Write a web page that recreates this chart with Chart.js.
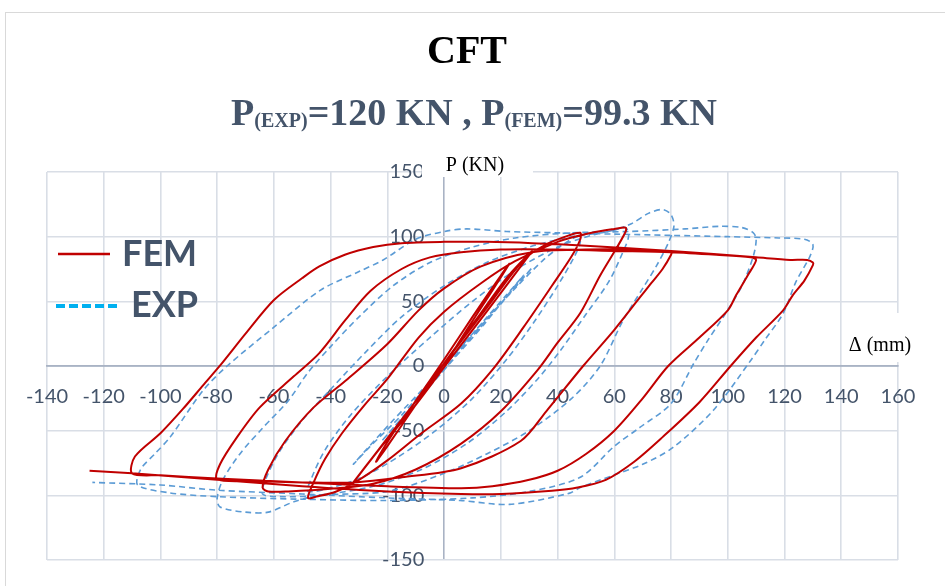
<!DOCTYPE html>
<html>
<head>
<meta charset="utf-8">
<script src="https://cdn.jsdelivr.net/npm/chart.js@4"></script>
<style>
  body { margin: 0; background: #fff; }
</style>
</head>
<body>
<canvas id="cftChart" width="945" height="586"></canvas>
<script>
'use strict';

// axis ticks
const xTicks = [-140, -120, -100, -80, -60, -40, -20, 0, 20, 40, 60, 80, 100, 120, 140, 160];
const yTicks = [-150, -100, -50, 0, 50, 100, 150];

// FEM hysteresis path, [delta (mm), P (kN)] in loading order
const femPoints = [
  [0, 0], [8, 28], [16, 55], [23, 79],
  [20, 70], [10, 38], [0, 5], [-10, -27], [-18, -52], [-24, -74],
  [-20, -62], [-10, -30], [0, 2], [12, 38], [22, 68], [31, 89],
  [28, 80], [15, 42], [2, 5], [-10, -30], [-22, -62], [-32, -90],
  [-25, -70], [-12, -33], [0, 2], [15, 45], [28, 82], [36, 94], [44, 101], [48, 103],
  [48, 98], [45, 85], [38, 62], [28, 30], [17, -3], [6, -29], [-8, -52], [-20, -73], [-30, -88], [-38, -97], [-45, -101], [-48, -102],
  [-46, -90], [-42, -72], [-36, -52], [-28, -30], [-20, -10], [-9, 22], [0, 42], [13, 64], [25, 81], [40, 96], [52, 103], [60, 106], [64, 107],
  [64, 104], [61, 92], [55, 70], [48, 41], [40, 18], [33, -3], [20, -35], [6, -60], [-10, -80], [-25, -91], [-40, -95], [-55, -97], [-62, -97], [-64, -94],
  [-62, -80], [-56, -58], [-46, -32], [-34, -10], [-20, 17], [-9, 43], [0, 60], [13, 77], [31, 88], [50, 90], [66, 90], [78, 89], [80, 88],
  [80, 86], [77, 75], [73, 64], [69, 53], [60, 28], [49, 0], [36, -35], [27, -58], [6, -79], [-15, -86], [-32, -90], [-50, -90], [-68, -89], [-80, -87.5],
  [-79, -76], [-73, -55], [-65, -32], [-53, -8], [-44, 10], [-35, 35], [-26, 58], [-15, 75], [-5, 84], [6, 88], [20, 90], [40, 90], [60, 89], [80, 88], [96, 86], [108, 84], [110, 82],
  [107, 70], [103, 55], [100, 43], [90, 22], [79, 0], [70, -25], [60, -50], [50, -68], [40, -81], [30, -88], [17, -93], [6, -94.5], [-20, -93], [-50, -90], [-80, -87], [-100, -84.5], [-110, -83],
  [-109, -70], [-100, -52], [-92, -33], [-85, -15], [-78, 3], [-70, 25], [-60, 51], [-50, 68], [-44, 77], [-35, 86], [-25, 92], [-15, 95], [0, 96], [15, 96], [31, 95], [50, 93], [80, 89], [110, 84], [122, 82], [128, 82], [130, 80],
  [130, 78], [127, 66], [123, 55], [119.5, 43], [110, 22], [101, 0], [90, -28], [77, -55], [67, -74], [57, -88], [47, -94], [38, -96.5], [20, -99], [6, -99], [-20, -97], [-50, -93], [-80, -88], [-110, -83], [-125, -81]
];

// EXP hysteresis path
const expPoints = [
  [0, 0], [6, 15], [14, 35], [22, 55], [28, 70],
  [25, 62], [14, 32], [2, 2], [-10, -28], [-22, -58],
  [-18, -48], [-6, -18], [8, 18], [20, 48], [31, 76],
  [27, 66], [15, 36], [0, 0], [-15, -38], [-26, -62], [-32, -76],
  [-28, -66], [-18, -42], [-5, -12], [10, 25], [25, 60], [35, 82], [42, 94], [47, 100], [48, 96],
  [46, 85], [40, 62], [32, 35], [22, 5], [10, -25], [-3, -50], [-16, -70], [-28, -85], [-38, -93], [-48, -97],
  [-47, -88], [-42, -65], [-33, -38], [-20, -8], [-5, 22], [10, 50], [25, 74], [40, 92], [52, 101], [60, 105], [64, 107], [65, 100],
  [63, 88], [58, 65], [50, 40], [41, 12], [33, -10], [22, -35], [8, -60], [-8, -80], [-25, -93], [-45, -100], [-58, -101], [-64, -99],
  [-63, -88], [-58, -66], [-50, -42], [-40, -18], [-28, 10], [-15, 38], [0, 62], [15, 80], [30, 92], [45, 100], [58, 104], [66, 110], [72, 118], [77, 121], [80, 117], [81, 108],
  [79, 95], [75, 78], [70, 60], [63, 35], [55, 0], [45, -25], [30, -50], [15, -68], [0, -83], [-20, -97], [-44, -100], [-53, -105], [-62, -113], [-70, -113], [-79, -109], [-80, -102],
  [-78, -88], [-72, -68], [-64, -48], [-55, -27], [-48, -5], [-40, 15], [-30, 38], [-18, 62], [-5, 80], [10, 92], [25, 99], [45, 103], [65, 104], [85, 106], [97, 108], [105, 107], [109, 103],
  [110, 98], [109, 85], [105, 62], [99, 40], [93, 20], [88, 2], [80, -29], [69, -47.5], [60, -62], [48, -86], [30, -97], [10, -102], [-20, -104], [-50, -103], [-80, -101], [-97, -98], [-108, -92],
  [-107, -80], [-102, -68], [-96.6, -55], [-85, -19], [-76.5, 0], [-60, 30], [-43.7, 58.5], [-30, 73], [-21.5, 82], [-10, 98], [0, 104], [8, 106], [22, 104], [40, 103], [60, 102], [80, 101], [100, 100], [118, 99], [127, 98], [130, 94],
  [129, 85], [124, 65], [119.5, 40.6], [113, 20], [108, 4], [95, -34], [80.7, -63], [70, -76], [59.6, -84.5], [48, -94], [44, -98.5], [23, -107], [5.6, -104], [-20, -102], [-50, -99], [-80, -96], [-100, -92], [-124, -90]
];

const gridColor = '#D9DEE6';
const axisColor = '#A9B3C4';
const labelColor = '#44546A';

// titles, legend and axis captions drawn onto the canvas
const decorPlugin = {
  id: 'decor',
  beforeDraw(chart) {
    const c = chart.ctx;
    c.save();
    c.fillStyle = '#fff';
    c.fillRect(0, 0, chart.width, chart.height);
    c.strokeStyle = '#D9D9D9';
    c.lineWidth = 1;
    c.strokeRect(5.5, 12.5, chart.width + 10, chart.height + 10);
    c.restore();
  },
  afterDraw(chart) {
    const c = chart.ctx;
    c.save();

    // main title
    c.fillStyle = '#000';
    c.font = 'bold 40px "Liberation Serif"';
    c.textAlign = 'center';
    c.textBaseline = 'alphabetic';
    c.fillText('CFT', 467, 63);

    // subtitle with small subscripts
    const parts = [
      ['P', 38, 0], ['(EXP)', 20, 2], ['=120 KN , P', 38, 0], ['(FEM)', 20, 2], ['=99.3 KN', 38, 0]
    ];
    let total = 0;
    parts.forEach(p => {
      c.font = 'bold ' + p[1] + 'px "Liberation Serif"';
      total += c.measureText(p[0]).width;
    });
    let px = 474 - total / 2;
    c.textAlign = 'left';
    c.fillStyle = labelColor;
    parts.forEach(p => {
      c.font = 'bold ' + p[1] + 'px "Liberation Serif"';
      c.fillText(p[0], px, 125 + p[2]);
      px += c.measureText(p[0]).width;
    });

    // legend
    c.strokeStyle = '#C00000';
    c.lineWidth = 2.5;
    c.beginPath();
    c.moveTo(58, 254);
    c.lineTo(110, 254);
    c.stroke();
    c.strokeStyle = '#00B0F0';
    c.lineWidth = 4;
    c.setLineDash([9, 4]);
    c.beginPath();
    c.moveTo(56, 306);
    c.lineTo(118, 306);
    c.stroke();
    c.setLineDash([]);
    c.fillStyle = labelColor;
    c.font = 'bold 36px Lato';
    c.textBaseline = 'middle';
    c.fillText('FEM', 122, 254);
    c.fillText('EXP', 131, 305);

    // axis captions on white boxes
    c.fillStyle = '#fff';
    c.fillRect(422, 160, 111, 17);
    c.fillRect(842, 313, 78, 49);
    c.fillStyle = '#000';
    c.font = '20px "Liberation Serif"';
    c.textAlign = 'center';
    c.fillText('P (KN)', 475, 166);
    c.fillText('\u0394 (mm)', 880, 346);
    c.restore();
  }
};

const ctx = document.getElementById('cftChart').getContext('2d');
new Chart(ctx, {
  type: 'scatter',
  data: {
    datasets: [
      {
        label: 'FEM',
        data: femPoints.map(p => ({ x: p[0], y: p[1] })),
        showLine: true,
        borderColor: '#C00000',
        borderWidth: 2,
        pointRadius: 0,
        tension: 0.3,
        fill: false
      },
      {
        label: 'EXP',
        data: expPoints.map(p => ({ x: p[0], y: p[1] })),
        showLine: true,
        borderColor: '#5B9BD5',
        borderWidth: 1.6,
        borderDash: [6, 4],
        pointRadius: 0,
        tension: 0.3,
        fill: false
      }
    ]
  },
  options: {
    responsive: false,
    animation: false,
    devicePixelRatio: 1,
    layout: { padding: { left: 47, right: 47, top: 172, bottom: 26 } },
    plugins: {
      legend: { display: false },
      tooltip: { enabled: false },
      title: { display: false }
    },
    scales: {
      x: {
        type: 'linear',
        position: { y: 0 },
        min: -140,
        max: 160,
        afterBuildTicks: scale => { scale.ticks = xTicks.map(v => ({ value: v })); },
        grid: {
          color: c => (c.tick && c.tick.value === 0 ? axisColor : gridColor),
          lineWidth: 1.6,
          drawTicks: false
        },
        border: { color: axisColor, width: 1.8 },
        ticks: {
          color: labelColor,
          font: { family: 'Lato', size: 20 },
          padding: 19,
          autoSkip: false,
          maxRotation: 0
        }
      },
      y: {
        type: 'linear',
        // labels sit a little left of the zero line, the zero line itself is the x grid at 0
        position: { x: -7 },
        min: -150,
        max: 150,
        afterBuildTicks: scale => { scale.ticks = yTicks.map(v => ({ value: v })); },
        grid: {
          color: c => (c.tick && c.tick.value === 0 ? axisColor : gridColor),
          lineWidth: 1.6,
          drawTicks: false
        },
        border: { display: false },
        ticks: {
          color: labelColor,
          font: { family: 'Lato', size: 20 },
          padding: 0
        }
      }
    }
  },
  plugins: [decorPlugin]
});
</script>
</body>
</html>
